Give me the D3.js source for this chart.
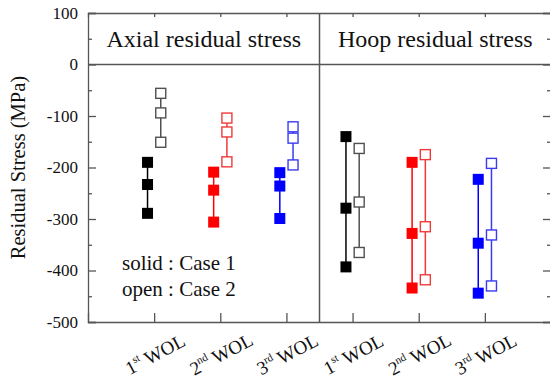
<!DOCTYPE html>
<html>
<head>
<meta charset="utf-8">
<script src="https://cdn.jsdelivr.net/npm/d3@7"></script>
<style>
  body { margin: 0; background: #fff; }
  svg text { font-family: "Liberation Serif", "DejaVu Serif", serif; fill: #111; }
  .axis path, .axis line { stroke: #555; stroke-width: 1.3; }
</style>
</head>
<body>
<svg width="550" height="380"></svg>
<script>
// données
var ordinals = ["1", "2", "3"];
var suffixes = ["st", "nd", "rd"];
var panelTitles = ["Axial residual stress", "Hoop residual stress"];
// une ligne par WOL, trois points par série
var axialCase1 = [[-190, -233, -289], [-209, -244, -306], [-210, -236, -299]];
var axialCase2 = [[-56, -94, -151], [-104, -131, -189], [-121, -143, -195]];
var hoopCase1 = [[-140, -279, -393], [-190, -328, -434], [-223, -347, -444]];
var hoopCase2 = [[-163, -267, -365], [-175, -315, -418], [-192, -331, -430]];
var yMajor = [100, 0, -100, -200, -300, -400, -500];
var yMinor = [50, -50, -150, -250, -350, -450];

var solidColors = ["#000000", "#ff0000", "#0000ff"];
var openColors = ["#505050", "#f03a3a", "#3a3af0"];

var svg = d3.select("svg");
var margin = {top: 13, left: 88, bottom: 58, right: -1};
var width = 550 - margin.left - margin.right,
    height = 380 - margin.top - margin.bottom;

var x = d3.scaleLinear().domain([0, 7]).range([0, width]);
var y = d3.scaleLinear().domain([-500, 100]).range([height, 0]);

var g = svg.append("g").attr("transform", "translate(" + margin.left + "," + margin.top + ")");

// axes
var xTicks = [1, 2, 3, 4, 5, 6];
g.append("g").attr("class", "axis").attr("transform", "translate(0," + height + ")")
    .call(d3.axisBottom(x).tickValues(xTicks).tickSize(-9).tickFormat(""));
g.append("g").attr("class", "axis")
    .call(d3.axisTop(x).tickValues(xTicks).tickSize(-4).tickFormat(""));
var yAxis = g.append("g").attr("class", "axis")
    .call(d3.axisLeft(y).tickValues(yMajor).tickSize(-8).tickPadding(10).tickFormat(d => String(d)));
yAxis.selectAll("text").style("font-size", "17px").attr("fill", "#111");
g.append("g").attr("class", "axis")
    .call(d3.axisLeft(y).tickValues(yMinor).tickSize(-4).tickFormat(""))
    .select(".domain").remove();
g.append("g").attr("class", "axis").attr("transform", "translate(" + width + ",0)")
    .call(d3.axisRight(y).tickValues(yMajor).tickSize(-8).tickFormat(""));
g.append("g").attr("class", "axis").attr("transform", "translate(" + width + ",0)")
    .call(d3.axisRight(y).tickValues(yMinor).tickSize(-4).tickFormat(""))
    .select(".domain").remove();

// bandeau des titres et séparation
g.append("line").attr("x1", 0).attr("x2", width).attr("y1", y(0)).attr("y2", y(0))
    .attr("stroke", "#555").attr("stroke-width", 1.3);
g.append("line").attr("x1", x(3.5)).attr("x2", x(3.5)).attr("y1", 0).attr("y2", height)
    .attr("stroke", "#555").attr("stroke-width", 1.5);
g.selectAll(".titre").data(panelTitles).enter().append("text")
    .attr("x", (d, i) => (x(i * 3.5) + x(i * 3.5 + 3.5)) / 2)
    .attr("y", y(50) + 8)
    .attr("text-anchor", "middle")
    .style("font-size", "24px")
    .text(d => d);

// libellé de l'axe vertical
svg.append("text")
    .attr("transform", "translate(25," + (margin.top + height / 2) + ") rotate(-90)")
    .attr("text-anchor", "middle")
    .style("font-size", "20.5px")
    .text("Residual Stress (MPa)");

// libellés des WOL inclinés
xTicks.forEach(function (t, i) {
    var k = i % 3;
    var lab = g.append("text")
        .attr("transform", "translate(" + (x(t) + 4) + "," + (height + 38) + ") rotate(-28)")
        .attr("text-anchor", "middle")
        .style("font-size", "19px");
    lab.append("tspan").text(ordinals[k]);
    lab.append("tspan").attr("dy", -8).style("font-size", "11px").text(suffixes[k]);
    lab.append("tspan").attr("dy", 8).text(" WOL");
});

// légende texte
g.append("text").attr("x", 34).attr("y", y(-400) - 1).style("font-size", "21px").text("solid : Case 1");
g.append("text").attr("x", 34).attr("y", y(-450) + 0).style("font-size", "21px").text("open : Case 2");

// séries
var offset = 0.1;
var line = d3.line().x(d => x(d.x)).y(d => y(d.v));
function dessinerSerie(values, base, solid) {
    values.forEach(function (serie, k) {
        var xc = base + k + (solid ? -offset : offset);
        var pts = serie.map(v => ({x: xc, v: v}));
        var col = solid ? solidColors[k] : openColors[k];
        g.append("path").attr("d", line(pts)).attr("fill", "none")
            .attr("stroke", col).attr("stroke-width", 1.5);
        g.selectAll(null).data(pts).enter().append("rect")
            .attr("x", d => x(d.x) - (solid ? 5.5 : 5))
            .attr("y", d => y(d.v) - (solid ? 5.5 : 5))
            .attr("width", solid ? 11 : 10).attr("height", solid ? 11 : 10)
            .attr("fill", solid ? col : "#fff")
            .attr("stroke", solid ? "none" : col)
            .attr("stroke-width", 1.4);
    });
}
dessinerSerie(axialCase1, 1, true);
dessinerSerie(axialCase2, 1, false);
dessinerSerie(hoopCase1, 4, true);
dessinerSerie(hoopCase2, 4, false);
</script>
</body>
</html>
